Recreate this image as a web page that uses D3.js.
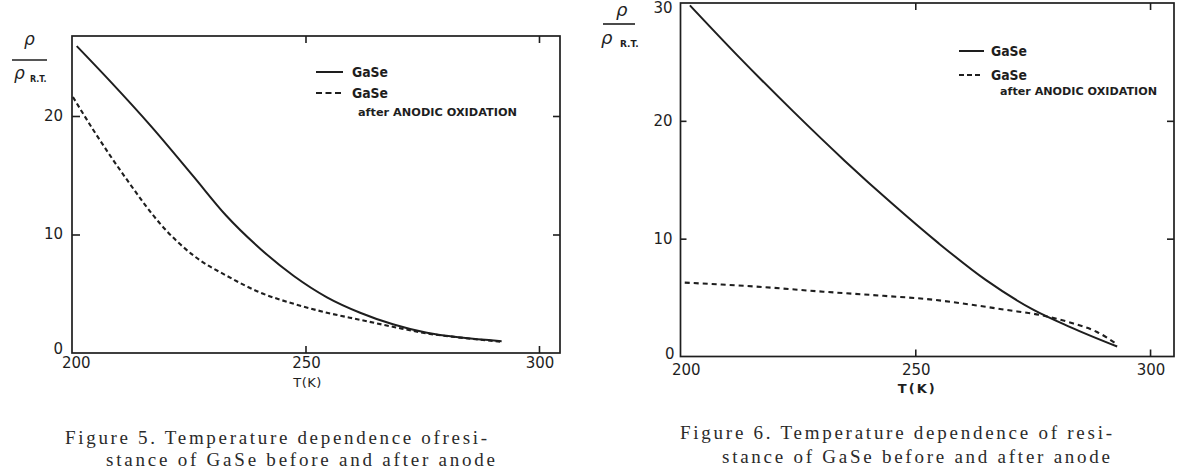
<!DOCTYPE html>
<html><head><meta charset="utf-8">
<script src="https://cdn.jsdelivr.net/npm/d3@7"></script>
<style>body{margin:0;background:#fff} svg{display:block}</style>
</head><body>
<svg id="c" width="1195" height="474"></svg>
<script>
// ---------- DATA ----------
const xTickValues = [200, 250, 300];
const fig5YTickValues = [0, 10, 20];
const fig6YTickValues = [0, 10, 20, 30];

// Figure 5
const fig5T_gase = [201, 208, 217, 226, 233, 240.3, 247.5, 254.6, 261.7, 268.9, 276, 283.2, 292];
const fig5V_gase = [25.9, 23.0, 19.1, 14.9, 11.6, 8.8, 6.5, 4.7, 3.4, 2.4, 1.7, 1.3, 1.0];
const fig5T_oxid = [200.2, 204.6, 211.8, 218.9, 226.1, 233.2, 240.3, 247.5, 254.6, 261.7, 268.9, 276, 283.2, 291.7];
const fig5V_oxid = [21.6, 18.8, 14.6, 10.9, 8.2, 6.5, 5.1, 4.15, 3.4, 2.8, 2.2, 1.65, 1.3, 0.95];

// Figure 6
const fig6T_gase = [202, 212, 224, 235, 245, 255, 265, 275, 283, 293];
const fig6V_gase = [29.8, 25.6, 20.8, 16.6, 13.0, 9.6, 6.5, 4.0, 2.5, 0.85];
const fig6T_oxid = [200.9, 216.2, 230.4, 243.2, 253.1, 262.4, 269.5, 276.6, 283.7, 288.6, 292.9];
const fig6V_oxid = [6.27, 5.93, 5.5, 5.15, 4.85, 4.37, 3.95, 3.52, 2.8, 2.1, 1.06];

const legendLabels = ["GaSe", "GaSe", "after ANODIC OXIDATION"];
const xAxisTitle = "T(K)";
const fig5Caption = ["Figure 5. Temperature dependence ofresi-", "stance of GaSe before and after anode"];
const fig6Caption = ["Figure 6. Temperature dependence of resi-", "stance of GaSe before and after anode"];

// ---------- DRAW ----------
const svg = d3.select("#c");
const INK = "#1e1e1e";
const zip = (a, b) => a.map((t, i) => ({t, v: b[i]}));

function drawChart(c) {
  const g = svg.append("g");
  const x = d3.scaleLinear().domain(c.xDomain).range([c.left, c.right]);
  const y = d3.scaleLinear().domain(c.yDomain).range([c.bottom, c.top]);

  // frame
  g.append("rect").attr("x", c.left).attr("y", c.top)
    .attr("width", c.right - c.left).attr("height", c.bottom - c.top)
    .attr("fill", "none").attr("stroke", INK).attr("stroke-width", 1.7);

  const inner = xTickValues.filter(d => d > c.xDomain[0]);
  const innerY = c.yTicks.filter(d => d > 0 && d < c.yDomain[1]);
  const styleAxis = sel => { sel.select(".domain").remove(); sel.selectAll("line").attr("stroke", INK).attr("stroke-width", 1.6); sel.selectAll("text").remove(); };

  g.append("g").attr("transform", `translate(0,${c.bottom})`)
    .call(d3.axisBottom(x).tickValues(inner).tickSize(-7).tickFormat("")).call(styleAxis);
  g.append("g").attr("transform", `translate(0,${c.top})`)
    .call(d3.axisTop(x).tickValues(inner).tickSize(-7).tickFormat("")).call(styleAxis);
  g.append("g").attr("transform", `translate(${c.left},0)`)
    .call(d3.axisLeft(y).tickValues(innerY).tickSize(-c.leftTick).tickFormat("")).call(styleAxis);
  g.append("g").attr("transform", `translate(${c.right},0)`)
    .call(d3.axisRight(y).tickValues(innerY).tickSize(-7).tickFormat("")).call(styleAxis);

  // tick labels
  const lab = "DejaVu Sans";
  c.yTicks.forEach(v => {
    g.append("text").attr("x", c.left + (v === 0 ? c.zeroDx : c.yLabDx))
      .attr("y", y(v) + (v === 0 ? c.zeroDy : (v === c.yDomain[1] ? 5 : 0)))
      .attr("text-anchor", "end").attr("dominant-baseline", "central")
      .attr("font-family", lab).attr("font-size", 15).attr("fill", INK).text(v);
  });
  xTickValues.forEach(t => {
    const xx = t === 200 ? x(t) + c.x200Dx : x(t) + 1;
    g.append("text").attr("x", xx).attr("y", c.bottom + c.xLabDy)
      .attr("text-anchor", t === 200 ? "start" : "middle").attr("dominant-baseline", "central")
      .attr("font-family", lab).attr("font-size", 15).attr("fill", INK).text(t);
  });
  g.append("text").attr("x", x(250) + 2).attr("y", c.bottom + c.titleDy)
    .attr("text-anchor", "middle").attr("dominant-baseline", "central")
    .attr("font-family", lab).attr("font-size", 13).attr("font-weight", c.titleBold ? "bold" : "normal")
    .attr("letter-spacing", c.titleBold ? 2 : 0.5).attr("fill", INK).text(xAxisTitle);

  // y label: rho / rho_R.T.
  const yl = c.ylab;
  g.append("text").attr("x", yl.numX).attr("y", yl.numY).attr("font-family", "DejaVu Sans")
    .attr("font-style", "italic").attr("font-size", yl.fs).attr("fill", INK).text("ρ");
  g.append("line").attr("x1", yl.lx1).attr("x2", yl.lx2).attr("y1", yl.ly).attr("y2", yl.ly)
    .attr("stroke", INK).attr("stroke-width", 1.6);
  g.append("text").attr("x", yl.denX).attr("y", yl.denY).attr("font-family", "DejaVu Sans")
    .attr("font-style", "italic").attr("font-size", yl.fs).attr("fill", INK).text("ρ");
  g.append("text").attr("x", yl.subX).attr("y", yl.subY).attr("font-family", "DejaVu Sans")
    .attr("font-weight", "bold").attr("font-size", yl.subFs).attr("fill", INK).text("R.T.");

  // curves
  const line = d3.line().x(d => x(d.t)).y(d => y(d.v)).curve(d3.curveMonotoneX);
  g.append("path").datum(zip(c.tG, c.vG)).attr("d", line)
    .attr("fill", "none").attr("stroke", INK).attr("stroke-width", 2);
  g.append("path").datum(zip(c.tO, c.vO)).attr("d", line)
    .attr("fill", "none").attr("stroke", INK).attr("stroke-width", 2.1).attr("stroke-dasharray", c.dash);

  // legend
  const L = c.leg;
  g.append("line").attr("x1", L.x1).attr("x2", L.x2).attr("y1", L.y1).attr("y2", L.y1)
    .attr("stroke", INK).attr("stroke-width", 2);
  g.append("line").attr("x1", L.x1).attr("x2", L.x2d).attr("y1", L.y2).attr("y2", L.y2)
    .attr("stroke", INK).attr("stroke-width", 2).attr("stroke-dasharray", c.legDash);
  [[L.tx, L.y1, legendLabels[0]], [L.tx, L.y2, legendLabels[1]]].forEach(([tx, ty, s]) => {
    g.append("text").attr("x", tx).attr("y", ty).attr("dominant-baseline", "central")
      .attr("font-family", "DejaVu Sans").attr("font-weight", "bold").attr("font-size", 14)
      .attr("textLength", 36).attr("lengthAdjust", "spacingAndGlyphs").attr("fill", INK).text(s);
  });
  g.append("text").attr("x", L.ax).attr("y", L.ay).attr("dominant-baseline", "central")
    .attr("font-family", "DejaVu Sans").attr("font-weight", "bold").attr("font-size", 11)
    .attr("textLength", L.aw).attr("lengthAdjust", "spacingAndGlyphs").attr("fill", INK).text(legendLabels[2]);

  // caption
  c.caption.forEach((s, i) => {
    g.append("text").attr("x", c.cap[i][0]).attr("y", c.cap[i][2])
      .attr("font-family", "Liberation Serif").attr("font-size", 19).attr("fill", "#2a2a2a")
      .attr("textLength", c.cap[i][1] - c.cap[i][0]).attr("lengthAdjust", "spacing").text(s);
  });
}

drawChart({
  left: 72, right: 560, top: 36, bottom: 353,
  xDomain: [200, 304.5], yDomain: [0, 26.75], yTicks: fig5YTickValues,
  leftTick: 8, yLabDx: -9, zeroDx: -9, zeroDy: -4, x200Dx: -10, xLabDy: 10, titleDy: 29, titleBold: false,
  ylab: {numX: 24, numY: 45, fs: 17, lx1: 12, lx2: 47, ly: 60, denX: 14, denY: 79, subX: 30, subY: 82, subFs: 8},
  tG: fig5T_gase, vG: fig5V_gase, tO: fig5T_oxid, vO: fig5V_oxid, dash: "4.5,3",
  leg: {x1: 316, x2: 343, x2d: 343, y1: 72, y2: 93, tx: 352, ax: 358, ay: 112, aw: 159},
  legDash: "6,3.5",
  caption: fig5Caption, cap: [[65, 487, 444], [106, 495, 466]]
});

drawChart({
  left: 680.5, right: 1174, top: 3, bottom: 356.5,
  xDomain: [200, 305.1], yDomain: [0, 30], yTicks: fig6YTickValues,
  leftTick: 6, yLabDx: -8, zeroDx: -6, zeroDy: -3, x200Dx: -8.5, xLabDy: 13, titleDy: 32, titleBold: true,
  ylab: {numX: 616, numY: 16, fs: 18, lx1: 603, lx2: 635, ly: 24, denX: 601, denY: 44, subX: 620, subY: 47, subFs: 9},
  tG: fig6T_gase, vG: fig6V_gase, tO: fig6T_oxid, vO: fig6V_oxid, dash: "5,4",
  leg: {x1: 959, x2: 984, x2d: 982, y1: 51, y2: 75, tx: 991, ax: 1000, ay: 91, aw: 157},
  legDash: "5,3",
  caption: fig6Caption, cap: [[680, 1112, 439], [722, 1110, 463]]
});
</script>
</body></html>
